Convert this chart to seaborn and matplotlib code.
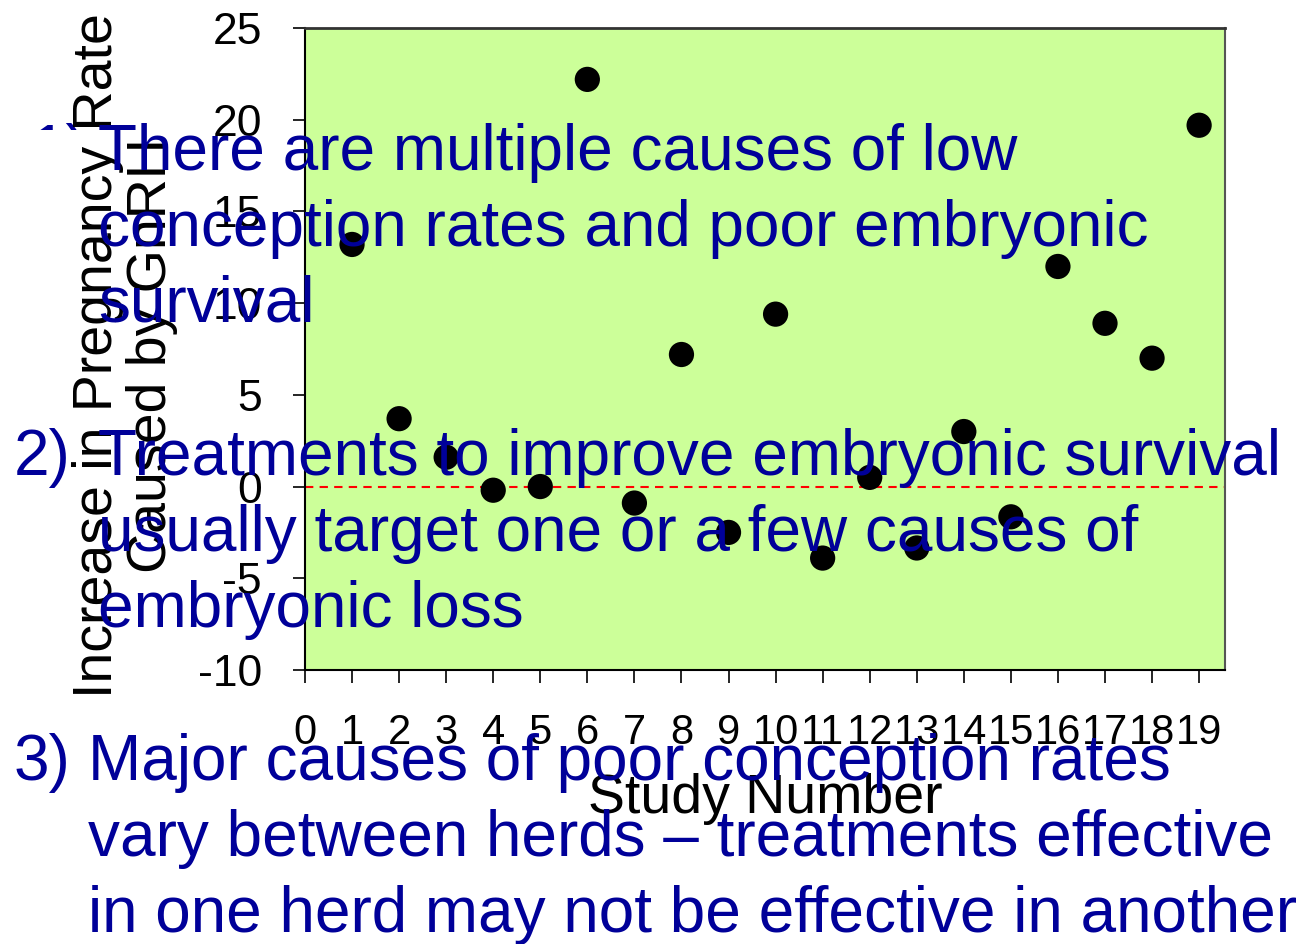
import matplotlib.pyplot as plt
import seaborn as sns
import pandas as pd
from matplotlib.patches import Rectangle

# Data
study_number = list(range(1, 20))
pregnancy_increase = [13.2, 3.7, 1.6, -0.2, 0.0, 22.2, -0.9, 7.2, -2.5, 9.4,
                      -3.9, 0.5, -3.35, 3.0, -1.65, 12.0, 8.9, 7.0, 19.7]
x_ticks = list(range(0, 20))
y_ticks = [-10, -5, 0, 5, 10, 15, 20, 25]

point_1 = ["There are multiple causes of low",
           "conception rates and poor embryonic",
           "survival"]
point_2 = ["Treatments to improve embryonic survival",
           "usually target one or a few causes of",
           "embryonic loss"]
point_3 = ["Major causes of poor conception rates",
           "vary between herds \u2013 treatments effective",
           "in one herd may not be effective in another"]

sns.set_style("white")
plt.rcParams["font.family"] = ["Liberation Sans", "DejaVu Sans"]
plt.rcParams["axes.unicode_minus"] = False
plt.rcParams["text.color"] = "black"
plt.rcParams["axes.labelcolor"] = "black"

df = pd.DataFrame({"Study": study_number, "Increase": pregnancy_increase})

fig = plt.figure(figsize=(13.05, 9.44), dpi=100)
ax = fig.add_axes([0.2337, 0.2903, 0.7050, 0.6800])
ax.set_facecolor("#CCFF99")

sns.scatterplot(data=df, x="Study", y="Increase", ax=ax, color="black",
                s=330, edgecolor="none", zorder=3)
ax.axhline(0, color="red", linestyle=(0, (4, 3)), linewidth=1.5, zorder=2)

ax.set_xlim(0, 19.55)
ax.set_ylim(-10, 25)
ax.set_xticks(x_ticks)
ax.set_yticks(y_ticks)
ax.tick_params(axis="x", labelsize=30, length=9, width=1.2, pad=22,
               direction="out", bottom=True, colors="black")
ax.tick_params(axis="y", labelsize=32, length=9, width=1.2, pad=22,
               direction="out", left=True, colors="black")

for side in ["left", "bottom"]:
    ax.spines[side].set_color("black")
    ax.spines[side].set_linewidth(1.5)
ax.spines["top"].set_color("#333333")
ax.spines["top"].set_linewidth(2)
ax.spines["right"].set_color("#555555")
ax.spines["right"].set_linewidth(1.5)

ax.set_xlabel("Study Number", fontsize=40, color="black")
ax.xaxis.set_label_coords(0.5, -0.16)
ax.set_ylabel("Increase in Pregnancy Rate\nCaused by GnRH", fontsize=40,
              linespacing=1.05, color="black")
ax.yaxis.set_label_coords(-0.138, 0.49)

# slide text overlaid on the chart
blue = "#000099"
fs = 46
fig.text(30 / 1305, 1 - 170 / 944, "1)", color=blue, fontsize=fs,
         va="baseline", zorder=-2)
fig.patches.append(Rectangle((0, 1 - 200 / 944), 100 / 1305, 70 / 944,
                             transform=fig.transFigure, facecolor="white",
                             edgecolor="none", zorder=-1))
for i, line in enumerate(point_1):
    fig.text(98 / 1305, 1 - (170 + 76 * i) / 944, line, color=blue,
             fontsize=fs, va="baseline", zorder=5)

fig.text(14 / 1305, 1 - 475 / 944, "2)", color=blue, fontsize=fs,
         va="baseline", zorder=5)
for i, line in enumerate(point_2):
    fig.text(98 / 1305, 1 - (475 + 76 * i) / 944, line, color=blue,
             fontsize=fs, va="baseline", zorder=5)

fig.text(14 / 1305, 1 - 780 / 944, "3)", color=blue, fontsize=fs,
         va="baseline", zorder=5)
for i, line in enumerate(point_3):
    fig.text(88 / 1305, 1 - (780 + 76 * i) / 944, line, color=blue,
             fontsize=fs, va="baseline", zorder=5)

fig.savefig("out.png", dpi=100)
plt.close(fig)
